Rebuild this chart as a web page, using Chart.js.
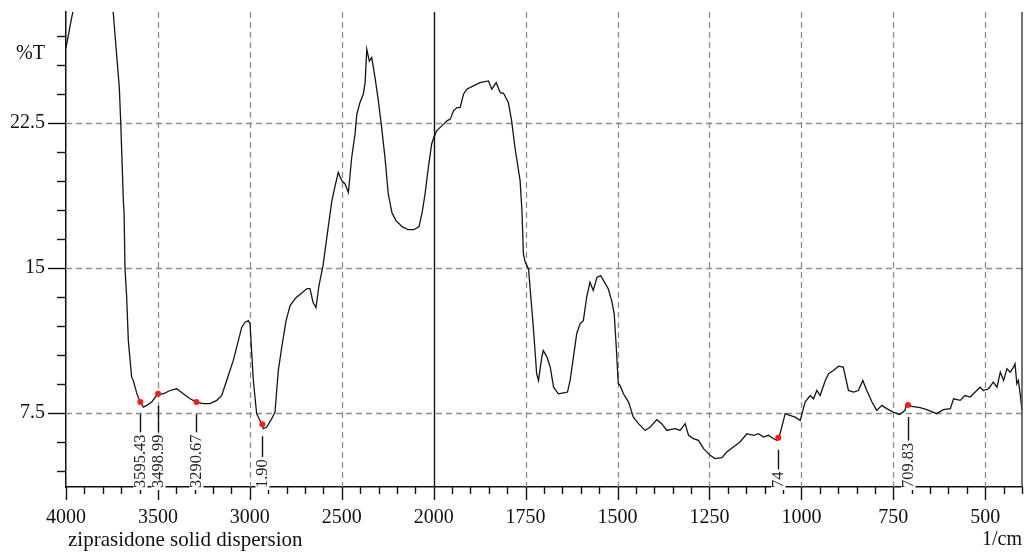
<!DOCTYPE html>
<html><head><meta charset="utf-8">
<script src="https://cdn.jsdelivr.net/npm/chart.js@4.4.0/dist/chart.umd.min.js"></script>
<style>html,body{margin:0;padding:0;background:#fff;}#wrap{width:1027px;height:555px;position:relative;}</style>
</head><body><div id="wrap"><canvas id="c" width="1027" height="555"></canvas></div>
<script>
// ---- data (wavenumber in 1/cm, transmittance in %T) ----
const wavenumbers = [4000,3978,3962,3930,3880,3820,3780,3743,3710,3702,3688,3684,3679,3670,3661,3643,3634,3615,3597,3579,3561,3534,3507,3498,3471,3434,3398,3362,3325,3289,3253,3217,3180,3153,3126,3090,3044,3026,3008,2999,2981,2963,2945,2927,2908,2881,2863,2854,2845,2825,2803,2781,2749,2716,2689,2673,2656,2640,2624,2602,2580,2554,2536,2519,2500,2482,2464,2446,2428,2418,2401,2383,2373,2364,2350,2337,2319,2301,2283,2265,2247,2227,2205,2172,2140,2107,2080,2063,2047,2029,2011,2000,1992,1978,1964,1955,1946,1937,1928,1919,1910,1892,1874,1851,1842,1830,1819,1810,1797,1788,1779,1765,1760,1756,1751,1742,1738,1729,1720,1715,1706,1702,1692,1683,1674,1661,1647,1636,1629,1620,1611,1602,1593,1584,1575,1566,1556,1546,1538,1525,1516,1509,1504,1498,1493,1484,1470,1457,1443,1425,1411,1393,1380,1366,1357,1343,1330,1316,1307,1294,1280,1266,1248,1235,1216,1203,1185,1167,1148,1130,1117,1103,1090,1076,1067,1058,1044,1031,1017,1003,990,976,967,958,949,935,926,913,899,886,872,858,845,833,822,808,795,781,768,750,733,718,715,700,677,659,632,614,595,586,568,555,541,523,514,505,491,478,468,459,450,441,432,423,419,414,410,405,400];
const transmittance = [26.40,27.53,28.3,29.6,30.4,30.5,29.8,28.22,24.34,22.45,18.48,17.81,14.95,13.48,11.24,9.34,9.17,8.50,8.05,7.79,7.88,8.05,8.39,8.48,8.48,8.65,8.74,8.48,8.22,8.05,7.97,7.97,8.14,8.39,9.17,10.21,11.93,12.19,12.27,12.10,9.17,7.45,7.10,6.67,6.76,7.19,7.53,8.65,9.69,10.98,12.27,13.05,13.46,13.72,13.93,13.93,13.21,12.95,14.09,15.12,16.67,18.48,19.26,19.95,19.52,19.35,18.91,20.72,21.93,22.97,23.57,24.00,24.60,26.33,25.72,25.90,24.86,23.66,22.27,20.72,18.83,17.86,17.45,17.14,16.98,16.98,17.14,17.86,18.83,20.21,21.42,21.74,22.10,22.36,22.62,22.71,23.14,23.31,23.31,24.00,24.26,24.43,24.60,24.69,24.26,24.60,24.08,24.05,23.57,22.62,21.24,19.52,17.96,15.73,15.29,14.95,14.00,11.93,9.52,9.17,10.38,10.72,10.38,9.86,8.82,8.48,8.53,8.57,9.17,10.38,11.59,12.10,12.27,13.48,14.26,13.83,14.51,14.60,14.34,13.91,13.31,12.62,11.07,9.00,8.91,8.48,8.05,7.27,6.93,6.58,6.76,7.14,6.93,6.58,6.62,6.67,6.58,6.93,6.33,6.16,6.07,5.64,5.29,5.12,5.17,5.46,5.72,5.98,6.41,6.33,6.41,6.24,6.33,6.16,6.07,6.41,7.45,7.36,7.27,7.10,8.05,8.39,8.22,8.65,8.39,9.17,9.52,9.69,9.91,9.86,8.65,8.57,8.65,9.17,8.65,8.05,7.62,7.88,7.71,7.53,7.41,7.62,7.93,7.83,7.76,7.66,7.45,7.66,7.71,8.22,8.14,8.39,8.31,8.65,8.82,8.65,8.74,9.08,8.82,9.60,9.17,9.78,9.60,9.86,10.03,9.00,9.17,8.48,7.62];
const peakWavenumbers = [3595.43, 3498.99, 3290.67, 2931.90, 1062.74, 709.83];
const peakTransmittance = [8.05, 8.48, 8.05, 6.9, 6.2, 7.9];
const peakLabels = ['3595.43', '3498.99', '3290.67', '1.90', '74', '709.83'];
const xTickValues = [4000, 3500, 3000, 2500, 2000, 1750, 1500, 1250, 1000, 750, 500];
const yTickValues = [7.5, 15, 22.5];
const X_END = 400, Y_MIN = 3.65, Y_MAX = 28.26;
const xTitle = 'ziprasidone solid dispersion', xUnit = '1/cm', yUnit = '%T';

// split wavenumber scale: 500 per unit above 2000, 250 per unit below
const xPos = w => w >= 2000 ? (4000 - w) / 500 : 4 + (2000 - w) / 250;
const minorX = []; for (let w = 4000; w > 2000; w -= 100) minorX.push(w); for (let w = 2000; w >= X_END; w -= 50) minorX.push(w);
const minorY = []; for (let v = 4.5; v < Y_MAX; v += 1.5) minorY.push(v);

const SERIF = '"Liberation Serif", "Times New Roman", serif';

const decor = {
  id: 'decor',
  beforeDatasetsDraw(chart) {
    const {ctx, chartArea: a, scales: {x, y}} = chart;
    ctx.save();
    ctx.strokeStyle = '#8c8c8c'; ctx.lineWidth = 1.3; ctx.setLineDash([6, 4]);
    yTickValues.forEach(v => {
      const py = Math.round(y.getPixelForValue(v)) + 0.5;
      ctx.beginPath(); ctx.moveTo(a.left, py); ctx.lineTo(a.right, py); ctx.stroke();
    });
    xTickValues.forEach(w => {
      if (w === 4000 || w === 2000) return;
      const px = Math.round(x.getPixelForValue(xPos(w))) + 0.5;
      ctx.beginPath(); ctx.moveTo(px, a.top); ctx.lineTo(px, a.bottom); ctx.stroke();
    });
    ctx.setLineDash([]); ctx.strokeStyle = '#111'; ctx.lineWidth = 1.4;
    const p2 = Math.round(x.getPixelForValue(xPos(2000))) + 0.5;
    ctx.beginPath(); ctx.moveTo(p2, a.top); ctx.lineTo(p2, a.bottom); ctx.stroke();
    ctx.restore();
  },
  afterDraw(chart) {
    const {ctx, chartArea: a, scales: {x, y}} = chart;
    ctx.save();
    // right frame line
    ctx.strokeStyle = '#444'; ctx.lineWidth = 1.5;
    ctx.beginPath(); ctx.moveTo(a.right, a.top); ctx.lineTo(a.right, a.bottom); ctx.stroke();
    // tick marks
    ctx.strokeStyle = '#111'; ctx.lineWidth = 1.4;
    minorY.forEach(v => {
      const py = Math.round(y.getPixelForValue(v)) + 0.5;
      const len = yTickValues.some(t => Math.abs(t - v) < 1e-6) ? 18 : 9;
      ctx.beginPath(); ctx.moveTo(a.left - len, py); ctx.lineTo(a.left, py); ctx.stroke();
    });
    minorX.forEach(w => {
      const px = Math.round(x.getPixelForValue(xPos(w))) + 0.5;
      const len = xTickValues.includes(w) ? 13 : 7;
      ctx.beginPath(); ctx.moveTo(px, a.bottom); ctx.lineTo(px, a.bottom + len); ctx.stroke();
    });
    // peak labels
    ctx.font = '16.5px ' + SERIF;
    peakWavenumbers.forEach((w, i) => {
      const px = Math.round(x.getPixelForValue(xPos(w))) + 0.5;
      const py = y.getPixelForValue(peakTransmittance[i]);
      const tw = ctx.measureText(peakLabels[i]).width;
      const bottom = a.bottom + 1;
      const top = bottom - tw;
      ctx.fillStyle = '#fff';
      ctx.fillRect(px - 7, top - 1, 14, tw + 3);
      ctx.strokeStyle = '#111'; ctx.lineWidth = 1.4;
      ctx.beginPath(); ctx.moveTo(px, py + 12); ctx.lineTo(px, top - 2); ctx.stroke();
      ctx.save();
      ctx.translate(px + 0.5, bottom); ctx.rotate(-Math.PI / 2);
      ctx.fillStyle = '#222'; ctx.textAlign = 'left'; ctx.textBaseline = 'middle';
      ctx.fillText(peakLabels[i], 0, 0);
      ctx.restore();
    });
    // texts
    ctx.fillStyle = '#111'; ctx.textBaseline = 'middle';
    ctx.font = '20px ' + SERIF; ctx.textAlign = 'right';
    ctx.fillText(yUnit, 45, 54);
    ctx.fillText(xUnit, a.right, 540);
    ctx.font = '21px ' + SERIF; ctx.textAlign = 'left';
    ctx.fillText(xTitle, 68, 540);
    ctx.restore();
  }
};

new Chart(document.getElementById('c'), {
  type: 'line',
  data: {
    datasets: [
      {
        data: wavenumbers.map((w, i) => ({x: xPos(w), y: transmittance[i]})),
        borderColor: '#141414', borderWidth: 1.3, pointRadius: 0, tension: 0, fill: false, order: 2
      },
      {
        data: peakWavenumbers.map((w, i) => ({x: xPos(w), y: peakTransmittance[i]})),
        showLine: false, pointRadius: 3, pointBackgroundColor: '#ff1a1a', pointBorderWidth: 0, order: 1
      }
    ]
  },
  options: {
    responsive: false, animation: false, devicePixelRatio: 1,
    layout: {padding: {top: 12, right: 5, left: 0, bottom: 0}},
    plugins: {legend: {display: false}, tooltip: {enabled: false}, title: {display: false}},
    scales: {
      x: {
        type: 'linear', min: 0, max: xPos(X_END),
        grid: {display: false, drawTicks: false},
        border: {display: true, color: '#111', width: 1.5},
        ticks: {
          autoSkip: false, maxRotation: 0, padding: 19, color: '#111',
          font: {family: SERIF, size: 20},
          callback: v => { const w = xTickValues.find(t => Math.abs(xPos(t) - v) < 1e-6); return w === undefined ? '' : String(w); }
        },
        afterBuildTicks: s => { s.ticks = xTickValues.map(w => ({value: xPos(w)})); },
        afterFit: s => { s.height = 68; s.paddingLeft = 0; s.paddingRight = 0; }
      },
      y: {
        type: 'linear', min: Y_MIN, max: Y_MAX,
        grid: {display: false, drawTicks: false},
        border: {display: true, color: '#111', width: 1.5},
        ticks: {
          padding: 21, color: '#111', font: {family: SERIF, size: 20},
          callback: v => String(v)
        },
        afterBuildTicks: s => { s.ticks = yTickValues.map(v => ({value: v})); },
        afterFit: s => { s.width = 66; s.paddingTop = 0; s.paddingBottom = 0; }
      }
    }
  },
  plugins: [decor]
});
</script></body></html>
